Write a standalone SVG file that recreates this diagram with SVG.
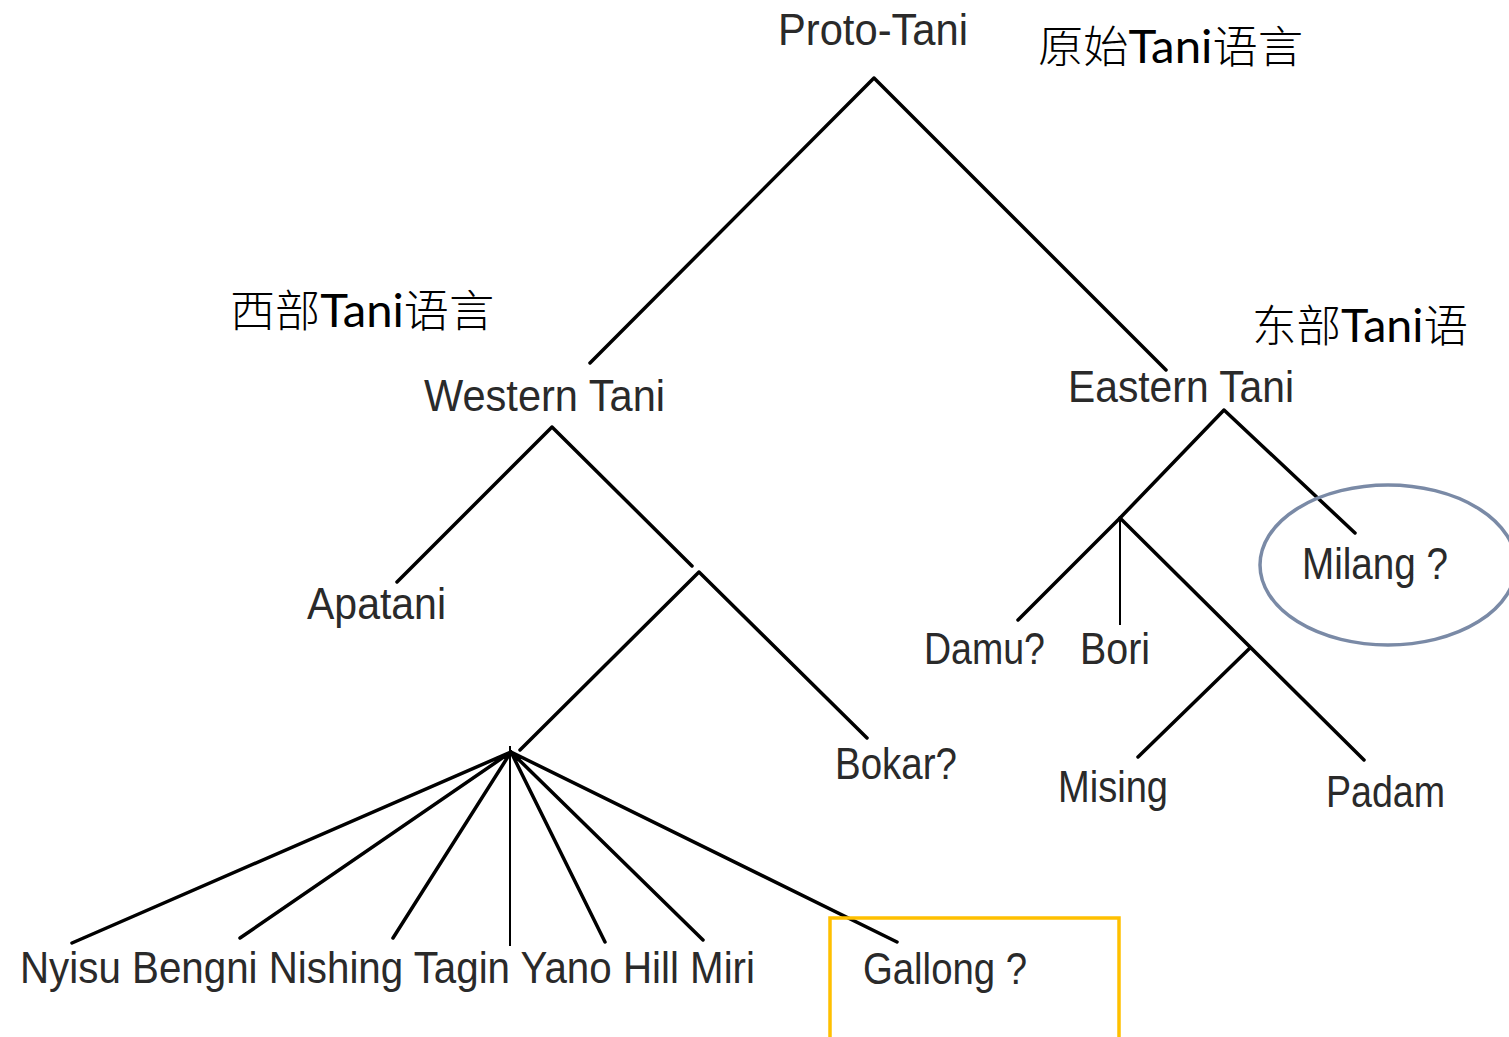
<svg xmlns="http://www.w3.org/2000/svg" width="1509" height="1037" viewBox="0 0 1509 1037">
<style>
.lbl{font-family:"Liberation Sans",Arial,sans-serif;font-size:45px;fill:#2a2a2a}
.zh{font-family:"Noto Sans CJK SC",sans-serif;font-size:44px;fill:#000;font-weight:300}
.lat{font-family:Lato,"Open Sans",sans-serif;font-size:46px;font-weight:400}
.e{stroke:#000;stroke-width:3.5;fill:none;stroke-linecap:round}
.v{stroke:#000;stroke-width:2;fill:none}
</style>
<rect width="1509" height="1037" fill="#fff"/>
<g id="connectors">
<path class="e" d="M874 78L590 363M874 78L1166 370"/>
<path class="e" d="M552 427L397 582M552 427L692 566"/>
<path class="e" d="M699 572L520 750M699 572L867 738"/>
<path class="e" d="M511 752L72 943M511 752L240 938M511 752L393 938M511 752L605 942M511 752L703 940M511 752L897 942"/>
<path class="v" d="M510 746V946"/>
<path class="e" d="M1224 410L1120 518M1224 410L1355 533"/>
<path class="e" d="M1120 518L1018 620M1120 518L1364 760M1250 648L1138 757"/>
<path class="v" d="M1120 518V625"/>
</g>
<g id="proto-tani"><text class="lbl" x="778" y="45" textLength="190" lengthAdjust="spacingAndGlyphs">Proto-Tani</text></g>
<g id="proto-tani-zh"><text class="zh" x="1038" y="63" textLength="265" lengthAdjust="spacingAndGlyphs">原始<tspan class="lat">Tani</tspan>语言</text></g>
<g id="western-tani-zh"><text class="zh" x="230" y="327" textLength="264" lengthAdjust="spacingAndGlyphs">西部<tspan class="lat">Tani</tspan>语言</text></g>
<g id="eastern-tani-zh"><text class="zh" x="1252" y="342" textLength="216" lengthAdjust="spacingAndGlyphs">东部<tspan class="lat">Tani</tspan>语</text></g>
<g id="western-tani"><text class="lbl" x="424" y="411" textLength="241" lengthAdjust="spacingAndGlyphs">Western Tani</text></g>
<g id="eastern-tani"><text class="lbl" x="1068" y="402" textLength="226" lengthAdjust="spacingAndGlyphs">Eastern Tani</text></g>
<g id="apatani"><text class="lbl" x="307" y="619" textLength="139" lengthAdjust="spacingAndGlyphs">Apatani</text></g>
<g id="milang"><ellipse cx="1388" cy="565" rx="128" ry="80" fill="none" stroke="#7a8aa6" stroke-width="3.5"/><text class="lbl" x="1302" y="579" textLength="146" lengthAdjust="spacingAndGlyphs">Milang ?</text></g>
<g id="damu"><text class="lbl" x="924" y="664" textLength="121" lengthAdjust="spacingAndGlyphs">Damu?</text></g>
<g id="bori"><text class="lbl" x="1080" y="664" textLength="70" lengthAdjust="spacingAndGlyphs">Bori</text></g>
<g id="bokar"><text class="lbl" x="835" y="779" textLength="122" lengthAdjust="spacingAndGlyphs">Bokar?</text></g>
<g id="mising"><text class="lbl" x="1058" y="802" textLength="110" lengthAdjust="spacingAndGlyphs">Mising</text></g>
<g id="padam"><text class="lbl" x="1326" y="807" textLength="119" lengthAdjust="spacingAndGlyphs">Padam</text></g>
<g id="bottom-row"><text class="lbl" x="20" y="983" textLength="735" lengthAdjust="spacingAndGlyphs">Nyisu Bengni Nishing Tagin Yano Hill Miri</text></g>
<g id="gallong"><rect x="830" y="918" width="289" height="130" fill="none" stroke="#ffc000" stroke-width="3.5"/><text class="lbl" x="863" y="984" textLength="164" lengthAdjust="spacingAndGlyphs">Gallong ?</text></g>
</svg>
